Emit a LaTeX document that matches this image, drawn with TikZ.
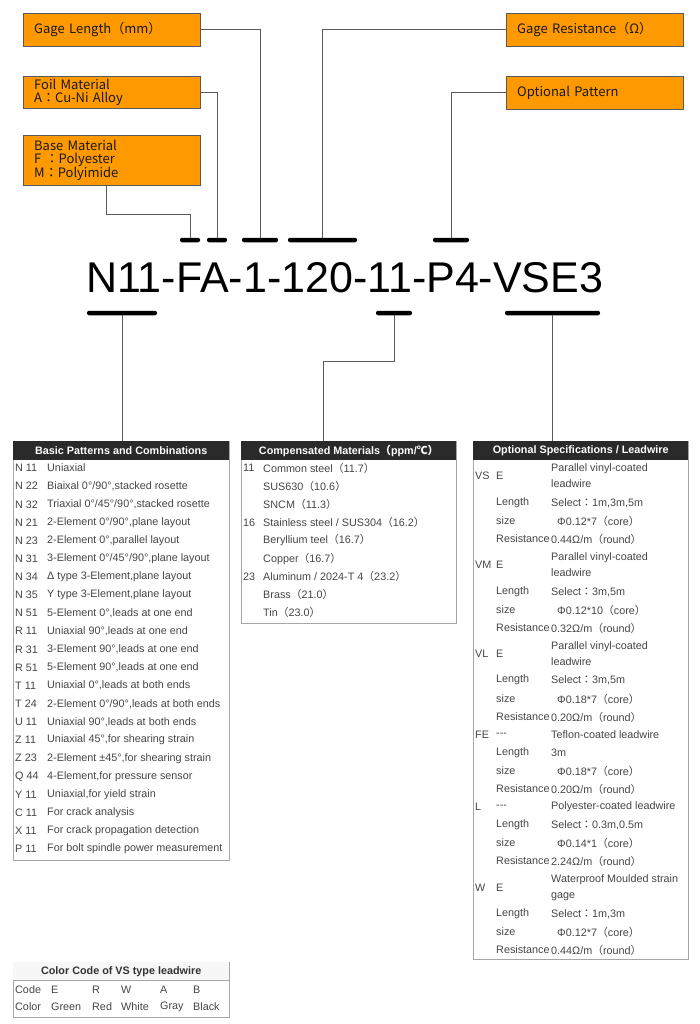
\documentclass[tikz,border=0pt]{standalone}
\usepackage{fontspec}
\setmainfont{Liberation Sans}
\newfontfamily\jpfont{Noto Sans CJK JP}
\usetikzlibrary{positioning}
\definecolor{tagfill}{HTML}{FF9900}
\definecolor{ink}{HTML}{454545}
\definecolor{headbg}{HTML}{2A2A2A}
\newcommand\lp{{\jpfont （}}
\newcommand\rp{{\jpfont ）}}
\newcommand\fcolon{{\jpfont ：}}
\newcommand\degc{{\jpfont ℃}}

\begin{document}
\begin{tikzpicture}[
  x=1pt, y=-1pt,
  every node/.style={inner sep=0pt, font=\fontsize{10.8}{16}\selectfont, text=ink},
  tag/.style={draw=black!65, fill=tagfill, anchor=north west, align=left,
              text width=155pt, inner xsep=11pt, inner ysep=0pt,
              font=\jpfont\fontsize{13}{13}\selectfont, text=black!90},
  bar/.style={fill=black, rounded corners=2pt, minimum height=4.5pt},
  wire/.style={draw=black!65, line width=0.9pt},
  tframe/.style={draw=black!35, line width=0.8pt, anchor=north west},
  thead/.style={fill=headbg, anchor=north west, minimum height=19pt,
                font=\bfseries\fontsize{10.8}{12}\selectfont, text=white},
  cell/.style={anchor=west, align=left},
]
  \useasboundingbox (0,0) rectangle (700,1024);

  \node[tag, minimum height=33pt] (glen) at (23,13) {Gage Length（mm）};
  \node[tag, minimum height=32pt] (foil) at (23,76) {Foil Material\\A：Cu-Ni Alloy};
  \node[tag, minimum height=50pt] (base) at (23,135) {Base Material\\F ：Polyester\\M：Polyimide};
  \node[tag, minimum height=33pt] (gres) at (506,13) {Gage Resistance（Ω）};
  \node[tag, minimum height=33pt] (opt) at (506,76) {Optional Pattern};

  \node[anchor=base west, text=black, font=\fontsize{43}{43}\selectfont] (code) at (86,292) {N11-FA-1-120-11-P4-VSE3};

  \node[bar, minimum width=20pt] (barB) at (190,240) {};
  \node[bar, minimum width=20pt] (barF) at (217,240) {};
  \node[bar, minimum width=36pt] (barL) at (260,240) {};
  \node[bar, minimum width=69pt] (barR) at (322.5,240) {};
  \node[bar, minimum width=36pt] (barP) at (451,240) {};
  \node[bar, minimum width=70pt] (barN) at (122,313) {};
  \node[bar, minimum width=36pt] (bar11) at (394,313) {};
  \node[bar, minimum width=95pt] (barV) at (552.5,313) {};

  \draw[wire] (glen.east) -| (barL);
  \draw[wire] (foil.east) -| (barF);
  \draw[wire] ([xshift=-5pt]base.south) -- ++(0,29) -| (barB);
  \draw[wire] (gres.west) -| (barR);
  \draw[wire] (opt.west) -| (barP);

  % basic patterns
  \node[tframe, minimum width=216pt, minimum height=419pt] (bpbox) at (13,441) {};
  \node[thead, minimum width=216pt] (bphead) at (13,441) {Basic Patterns and Combinations};
  \foreach \c/\d [count=\i from 0] in {
    {N 11}/{Uniaxial},
    {N 22}/{Biaixal 0°/90°,stacked rosette},
    {N 32}/{Triaxial 0°/45°/90°,stacked rosette},
    {N 21}/{2-Element 0°/90°,plane layout},
    {N 23}/{2-Element 0°,parallel layout},
    {N 31}/{3-Element 0°/45°/90°,plane layout},
    {N 34}/{Δ type 3-Element,plane layout},
    {N 35}/{Y type 3-Element,plane layout},
    {N 51}/{5-Element 0°,leads at one end},
    {R 11}/{Uniaxial 90°,leads at one end},
    {R 31}/{3-Element 90°,leads at one end},
    {R 51}/{5-Element 90°,leads at one end},
    {T 11}/{Uniaxial 0°,leads at both ends},
    {T 24}/{2-Element 0°/90°,leads at both ends},
    {U 11}/{Uniaxial 90°,leads at both ends},
    {Z 11}/{Uniaxial 45°,for shearing strain},
    {Z 23}/{2-Element ±45°,for shearing strain},
    {Q 44}/{4-Element,for pressure sensor},
    {Y 11}/{Uniaxial,for yield strain},
    {C 11}/{For crack analysis},
    {X 11}/{For crack propagation detection},
    {P 11}/{For bolt spindle power measurement}} {
    \node[cell] (bpc\i) at (15,{468+18.14*\i}) {\c};
    \node[cell] (bpd\i) at (47,{468+18.14*\i}) {\d};
  }

  % compensated materials
  \node[tframe, minimum width=215pt, minimum height=182pt] (cmbox) at (241,441) {};
  \node[thead, minimum width=215pt] (cmhead) at (241,441) {Compensated Materials\lp ppm/\degc\rp};
  \foreach \c/\d [count=\i from 0] in {
    {11}/{Common steel\lp 11.7\rp},
    {}/{SUS630\lp 10.6\rp},
    {}/{SNCM\lp 11.3\rp},
    {16}/{Stainless steel / SUS304\lp 16.2\rp},
    {}/{Beryllium teel\lp 16.7\rp},
    {}/{Copper\lp 16.7\rp},
    {23}/{Aluminum / 2024-T 4\lp 23.2\rp},
    {}/{Brass\lp 21.0\rp},
    {}/{Tin\lp 23.0\rp}} {
    \node[cell] (cmc\i) at (243,{468+18.1*\i}) {\c};
    \node[cell] (cmd\i) at (263,{468+18.1*\i}) {\d};
  }

  % optional specifications
  \node[tframe, minimum width=215pt, minimum height=518pt] (osbox) at (473,441) {};
  \node[thead, minimum width=215pt] (oshead) at (473,441) {Optional Specifications / Leadwire};
  \foreach \y/\a/\b/\xc/\c in {
    476/VS/E/551/{Parallel vinyl-coated\\leadwire},
    503/{}/Length/551/{Select\fcolon 1m,3m,5m},
    521/{}/size/557/{Φ0.12*7\lp core\rp},
    539/{}/Resistance/551/{0.44Ω/m\lp round\rp},
    565/VM/E/551/{Parallel vinyl-coated\\leadwire},
    592/{}/Length/551/{Select\fcolon 3m,5m},
    610/{}/size/557/{Φ0.12*10\lp core\rp},
    628/{}/Resistance/551/{0.32Ω/m\lp round\rp},
    654/VL/E/551/{Parallel vinyl-coated\\leadwire},
    680/{}/Length/551/{Select\fcolon 3m,5m},
    699/{}/size/557/{Φ0.18*7\lp core\rp},
    717/{}/Resistance/551/{0.20Ω/m\lp round\rp},
    735/FE/{-{}-{}-}/551/{Teflon-coated leadwire},
    753/{}/Length/551/{3m},
    771/{}/size/557/{Φ0.18*7\lp core\rp},
    789/{}/Resistance/551/{0.20Ω/m\lp round\rp},
    807/L/{-{}-{}-}/551/{Polyester-coated leadwire},
    825/{}/Length/551/{Select\fcolon 0.3m,0.5m},
    843/{}/size/557/{Φ0.14*1\lp core\rp},
    861/{}/Resistance/551/{2.24Ω/m\lp round\rp},
    888/W/E/551/{Waterproof Moulded strain\\gage},
    914/{}/Length/551/{Select\fcolon 1m,3m},
    932/{}/size/557/{Φ0.12*7\lp core\rp},
    950/{}/Resistance/551/{0.44Ω/m\lp round\rp}} {
    \node[cell] (osa\y) at (475,\y) {\a};
    \node[cell] (osb\y) at (496,\y) {\b};
    \node[cell] (osc\y) at (\xc,\y) {\c};
  }

  \draw[wire] (barN) -- (barN |- bphead.north);
  \draw[wire] (bar11) -- ++(0,48) -| ([xshift=-25.5pt]cmhead.north);
  \draw[wire] (barV) -- (barV |- oshead.north);

  % colour code
  \node[tframe, minimum width=216pt, minimum height=55pt] (ccbox) at (13,962) {};
  \node[thead, minimum width=216pt, minimum height=18pt, fill=black!3, text=black!80] (cchead) at (13,962) {Color Code of VS type leadwire};
  \draw[draw=black!35, line width=0.8pt] (cchead.south west) -- (cchead.south east);
  \foreach \x/\p/\q in {15/Code/Color, 51/E/Green, 92/R/Red, 121/W/White, 160/A/Gray, 193/B/Black} {
    \node[cell] (ccp\x) at (\x,990) {\p};
    \node[cell] (ccq\x) at (\x,1007) {\q};
  }
\end{tikzpicture}
\end{document}
